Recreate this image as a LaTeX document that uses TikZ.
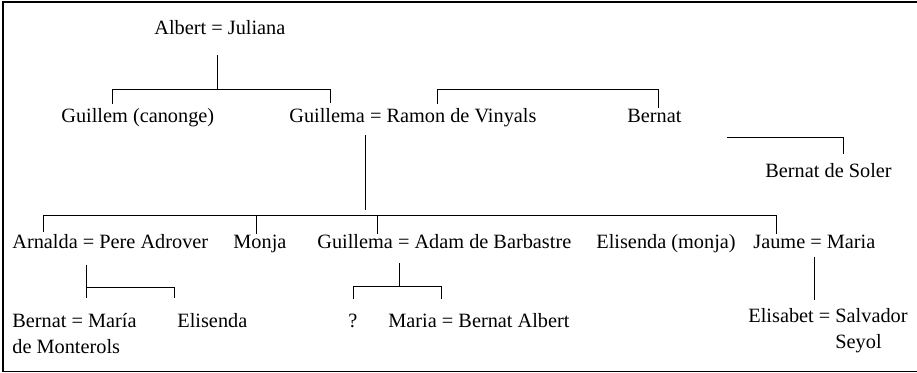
\documentclass[tikz,border=0pt]{standalone}
\usepackage{fontspec}
\setmainfont{Liberation Serif}

\begin{document}
\begin{tikzpicture}[x=1pt,y=-1pt,line width=0.8pt,
		font=\fontsize{20.3}{26}\selectfont,
		person/.style={inner sep=0pt,anchor=base west,text height=14pt,text depth=4pt},
		couple/.style={inner sep=0pt,align=left,anchor=north west}]
	\useasboundingbox (0,0) rectangle (917,372);
	\draw[line width=1.2pt] (917,2) -| (3,371.3) -- (917,371.3);
	% people
	\node[person] (aj) at (154,34) {Albert = Juliana};
	\node[person] (gc) at (61,122) {Guillem (canonge)};
	\node[person] (gr) at (289,122) {Guillema = Ramon de Vinyals};
	\node[person] (be) at (627,122) {Bernat};
	\node[person] (bs) at (765,177) {Bernat de Soler};
	\node[person] (ap) at (12,248) {Arnalda = Pere Adrover};
	\node[person] (mo) at (233,248) {Monja};
	\node[person] (ga) at (317,248) {Guillema = Adam de Barbastre};
	\node[person] (em) at (596,248) {Elisenda (monja)};
	\node[person] (jm) at (753,248) {Jaume = Maria};
	\node[couple] (bm) at (12,313) {Bernat = María\\de Monterols};
	\node[person] (el) at (177,327) {Elisenda};
	\node[person] (qu) at (348,327) {?};
	\node[person] (mb) at (388,327) {Maria = Bernat Albert};
	\node[couple] (es) at (748,308) {Elisabet = Salvador\\\phantom{Elisabet = }Seyol};
	% bars
	\coordinate (b1l) at (112,89);  \coordinate (b1r) at (330,89);
	\coordinate (b2l) at (437,89);  \coordinate (b2r) at (658,89);
	\coordinate (b3l) at (727,137); \coordinate (b3r) at (843,137);
	\coordinate (b4l) at (43,215);  \coordinate (b4r) at (776,215);
	\coordinate (b4a) at (256,215); \coordinate (b4b) at (377,215);
	\coordinate (b4m) at (365,215);
	\coordinate (b5l) at (86,287);  \coordinate (b5r) at (174,287);
	\coordinate (b6l) at (353,286); \coordinate (b6r) at (441,286);
	\coordinate (b6m) at (399,286);
	% Albert = Juliana
	\draw (aj.south) ++(-2,17) -- ++(0,34);
	\draw (b1l |- gc.north) ++(0,-4) |- (b1r) -- ++(0,14);
	% Ramon and Bernat
	\draw (b2l |- gr.north) ++(0,-4) |- (b2r) -- (b2r |- be.north);
	\draw[shorten >=9pt] (b3l) -| (b3r |- bs.north);
	% Guillema = Ramon de Vinyals
	\draw (gr.south -| b4m) ++(0,9) -- ++(0,75);
	\draw (b4l |- ap.north) ++(0,-2) |- (b4r) -- (b4r |- jm.north);
	\draw (b4a) -- (b4a |- mo.north);
	\draw (b4b) -- (b4b |- ga.north);
	% Arnalda = Pere Adrover
	\draw (ap.south -| b5l) ++(0,13) -- ++(0,33);
	\draw (b5l) -- (b5r) -- ++(0,11);
	% Guillema = Adam de Barbastre
	\draw (ga.south -| b6m) ++(0,11) -- (b6m);
	\draw (b6l) ++(0,13) |- (b6r) -- ++(0,13);
	% Jaume = Maria
	\draw (jm.south) ++(0,5) -- ++(0,43);
\end{tikzpicture}
\end{document}
